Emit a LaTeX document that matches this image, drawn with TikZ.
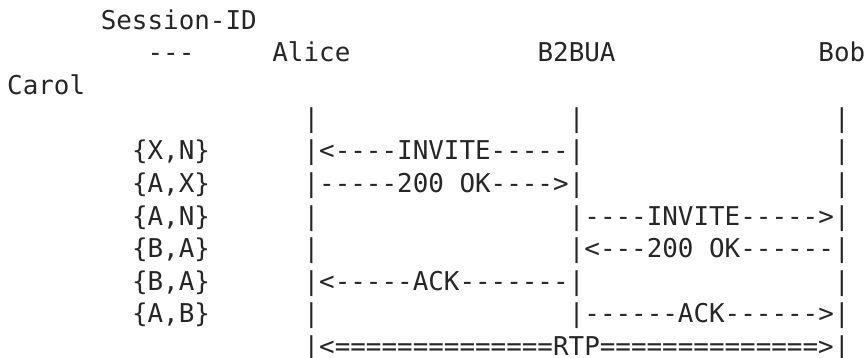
\documentclass[tikz,border=0pt]{standalone}
\usepackage{fontspec}
\setmonofont{DejaVu Sans Mono}
\begin{document}
\begin{tikzpicture}[x=15.6pt, y=-32.6pt,
    txt/.style={font=\ttfamily\fontsize{25.9pt}{32pt}\selectfont, anchor=base west, inner sep=0pt, text=black!85}]
  \useasboundingbox (0pt,0pt) rectangle (866pt,-358pt);

  \begin{scope}[shift={(7pt,-29.4pt)}]
  % Header (one column = one character cell)
  \node[txt] (sid) at (6,0) {Session-ID};
  \node[txt] (dash) at (9,1) {---};
  \node[txt] (alice) at (17,1) {Alice};
  \node[txt] (b2bua) at (34,1) {B2BUA};
  \node[txt] (bob) at (52,1) {Bob};
  \node[txt] (carol) at (0,2) {Carol};

  % Life lines
  \foreach \r in {3,...,10} {
    \node[txt] (la\r) at (19,\r) {|};
    \node[txt] (lc\r) at (53,\r) {|};
  }
  \foreach \r in {3,...,9} {
    \node[txt] (lb\r) at (36,\r) {|};
  }

  % Session-ID values
  \foreach \r/\a/\b in {4/X/N, 5/A/X, 6/A/N, 7/B/A, 8/B/A, 9/A/B} {
    \node[txt] (id\r) at (8,\r) {\{\a,\b\}};
  }

  % Messages
  \node[txt] (inv1) at (20,4) {<----INVITE-----};
  \node[txt] (ok1) at (20,5) {-----200 OK---->};
  \node[txt] (inv2) at (37,6) {----INVITE----->};
  \node[txt] (ok2) at (37,7) {<---200 OK------};
  \node[txt] (ack1) at (20,8) {<-----ACK-------};
  \node[txt] (ack2) at (37,9) {------ACK------>};
  \node[txt] (rtp) at (20,10) {<==============RTP==============>};
  \end{scope}
\end{tikzpicture}
\end{document}
